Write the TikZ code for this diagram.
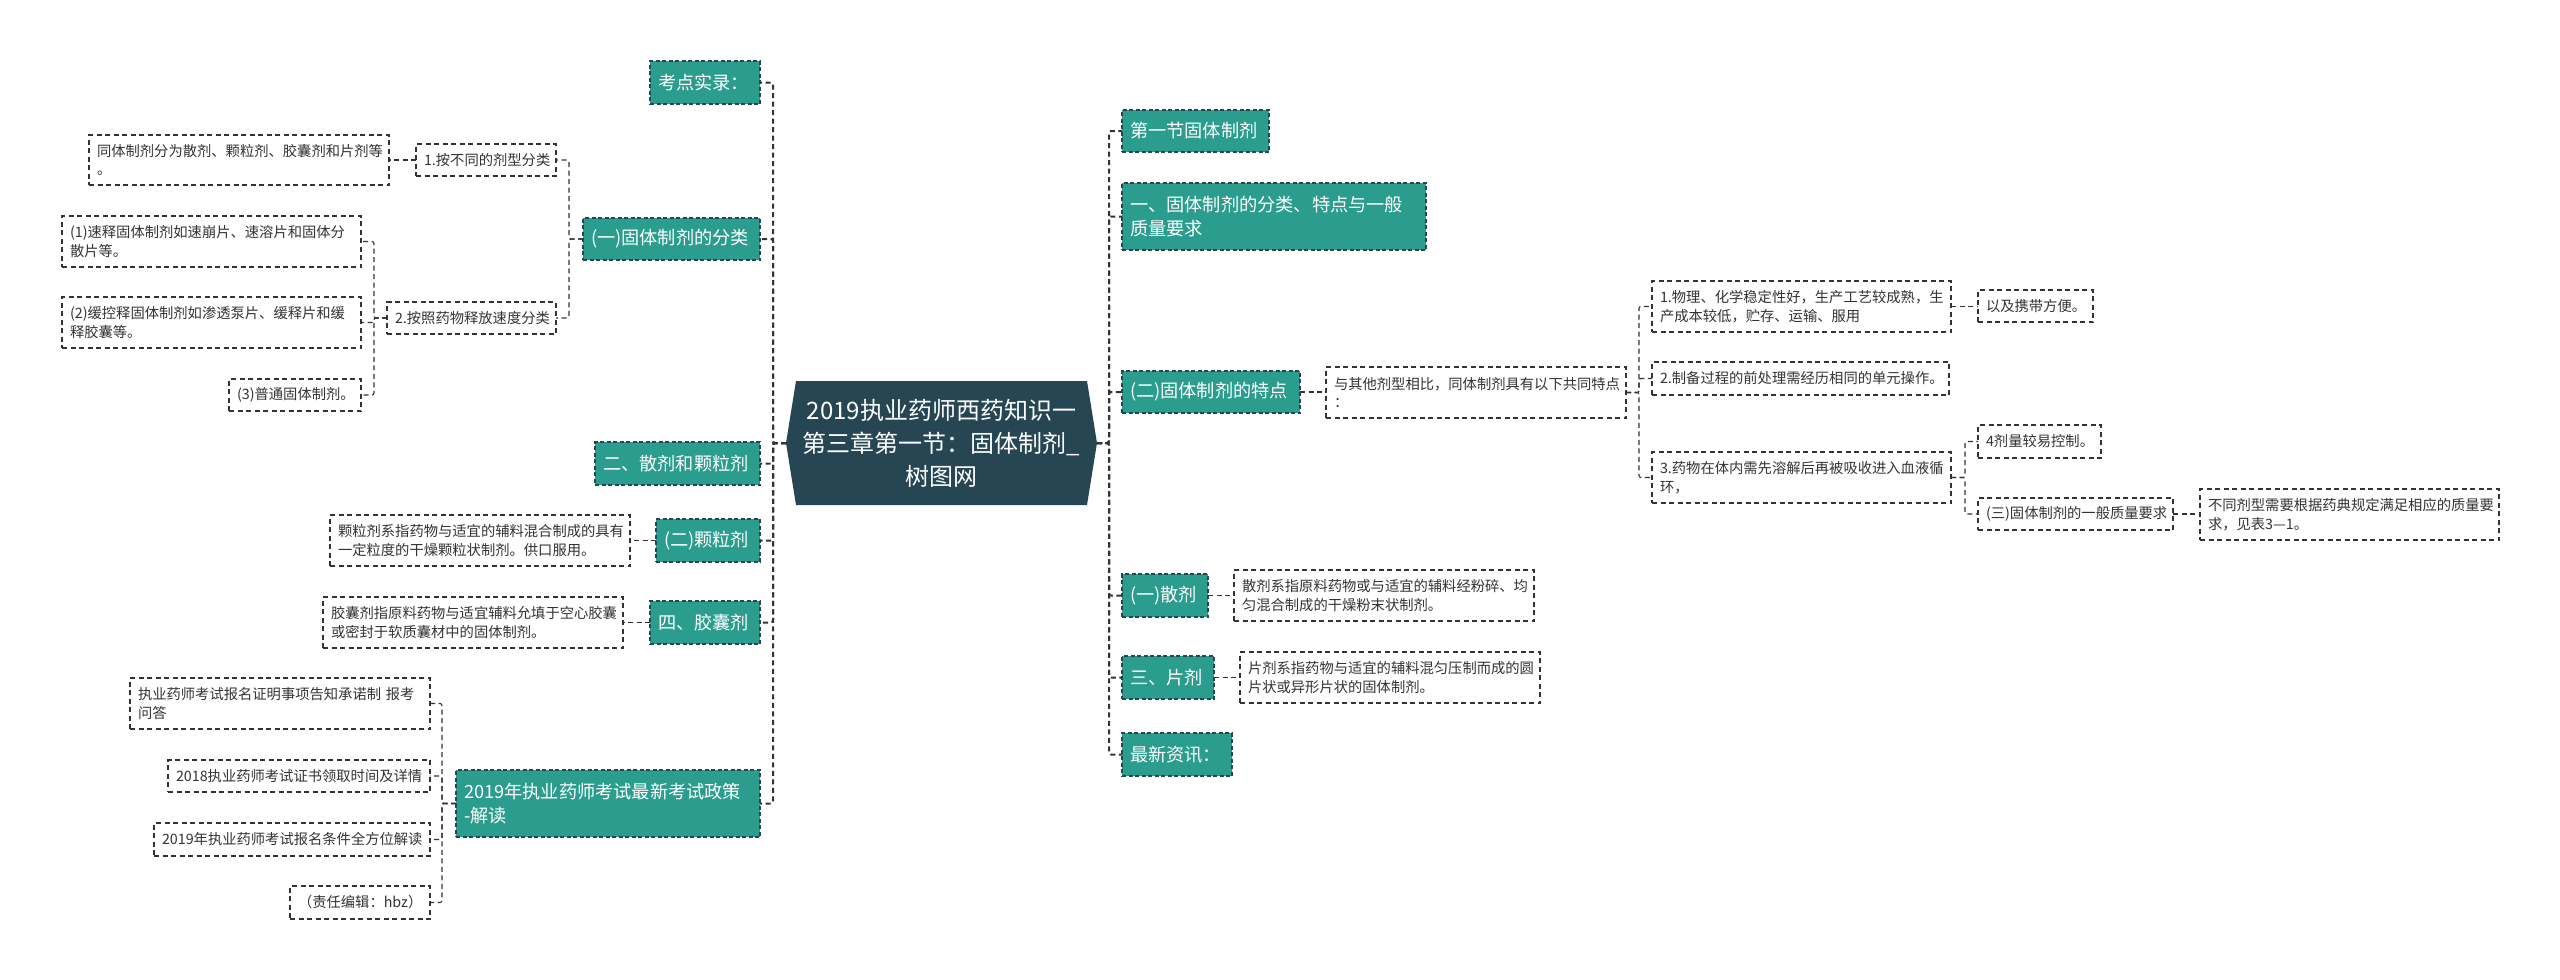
\documentclass[tikz,border=0pt]{standalone}
\usepackage{fontspec}
\setmainfont{Noto Sans CJK SC}
\usetikzlibrary{backgrounds,calc}
\definecolor{teal1}{HTML}{2A9D8F}
\definecolor{navy1}{HTML}{264653}
\definecolor{ink}{HTML}{333333}
\definecolor{edge}{HTML}{333333}
\tikzset{
  x=1pt,y=-1pt,
  dashline/.style={dash pattern=on 5pt off 3.5pt},
  base/.style={anchor=north west,outer sep=0pt,inner xsep=8pt,inner ysep=0pt,align=left},
  wd/.style={text width=#1pt-16pt},
  ht/.style={minimum height=#1pt},
  smallbox/.style={base,draw=edge,line width=1.1pt,dashline,fill=white,text=ink,font=\fontsize{14.3}{18.6}\selectfont},
  greenbox/.style={base,draw=navy1,line width=1.2pt,dash pattern=on 4pt off 2.5pt,fill=teal1,text=white,font=\fontsize{18.2}{24.4}\selectfont},
  rootbox/.style={anchor=north west,outer sep=0pt,inner sep=0pt,align=center,text=white,font=\fontsize{24}{33}\selectfont},
  link/.style={draw=edge,line width=1.1pt,dashline,rounded corners=2pt},
  mainlink/.style={draw=ink,line width=2pt,dashline,rounded corners=2pt}
}
\begin{document}
\begin{tikzpicture}
\useasboundingbox (0,0) rectangle (2560,980);
% root
\node[rootbox,minimum width=311pt,minimum height=124pt] (root) at (786,381) {2019执业药师西药知识一\\第三章第一节：固体制剂\_\\树图网};
\begin{scope}[on background layer]
\fill[white] (0,0) rectangle (2560,980);
\fill[navy1] (root.west) -- ($(root.north west)+(10,0)$) -- ($(root.north east)+(-10,0)$) -- (root.east) -- ($(root.south east)+(-10,0)$) -- ($(root.south west)+(10,0)$) -- cycle;
\end{scope}
% left main
\node[greenbox,wd=110,ht=43] (l1) at (650,61) {考点实录：};
\node[greenbox,wd=177,ht=42] (l2) at (583,218) {(一)固体制剂的分类};
\node[greenbox,wd=165,ht=43] (l3) at (595,442) {二、散剂和颗粒剂};
\node[greenbox,wd=104,ht=43] (l4) at (656,519) {(二)颗粒剂};
\node[greenbox,wd=110,ht=43] (l5) at (650,601) {四、胶囊剂};
\node[greenbox,wd=304,ht=67] (l6) at (456,770) {2019年执业药师考试最新考试政策\\-解读};
% left details
\node[smallbox,wd=140,ht=32] (a1) at (416,144) {1.按不同的剂型分类};
\node[smallbox,wd=300,ht=50] (a1x) at (89,135) {同体制剂分为散剂、颗粒剂、胶囊剂和片剂等\\。};
\node[smallbox,wd=169,ht=32] (a2) at (387,302) {2.按照药物释放速度分类};
\node[smallbox,wd=299,ht=51] (a21) at (62,216) {(1)速释固体制剂如速崩片、速溶片和固体分\\散片等。};
\node[smallbox,wd=299,ht=51] (a22) at (62,297) {(2)缓控释固体制剂如渗透泵片、缓释片和缓\\释胶囊等。};
\node[smallbox,wd=132,ht=32] (a23) at (229,379) {(3)普通固体制剂。};
\node[smallbox,wd=300,ht=51] (b1) at (330,515) {颗粒剂系指药物与适宜的辅料混合制成的具有\\一定粒度的干燥颗粒状制剂。供口服用。};
\node[smallbox,wd=300,ht=51] (b2) at (323,597) {胶囊剂指原料药物与适宜辅料允填于空心胶囊\\或密封于软质囊材中的固体制剂。};
\node[smallbox,wd=300,ht=51] (c1) at (130,678) {执业药师考试报名证明事项告知承诺制 报考\\问答};
\node[smallbox,wd=262,ht=32] (c2) at (168,760) {2018执业药师考试证书领取时间及详情};
\node[smallbox,wd=276,ht=33] (c3) at (154,823) {2019年执业药师考试报名条件全方位解读};
\node[smallbox,wd=140,ht=33] (c4) at (290,886) {（责任编辑：hbz）};
% right main
\node[greenbox,wd=147,ht=42] (r1) at (1122,110) {第一节固体制剂};
\node[greenbox,wd=304,ht=67] (r2) at (1122,183) {一、固体制剂的分类、特点与一般\\质量要求};
\node[greenbox,wd=178,ht=42] (r3) at (1122,371) {(二)固体制剂的特点};
\node[greenbox,wd=86,ht=43] (r4) at (1122,574) {(一)散剂};
\node[greenbox,wd=92,ht=43] (r5) at (1122,656) {三、片剂};
\node[greenbox,wd=110,ht=43] (r6) at (1122,733) {最新资讯：};
% right details
\node[smallbox,wd=300,ht=51] (d0) at (1326,367) {与其他剂型相比，同体制剂具有以下共同特点\\：};
\node[smallbox,wd=299,ht=51] (d1) at (1652,281) {1.物理、化学稳定性好，生产工艺较成熟，生\\产成本较低，贮存、运输、服用};
\node[smallbox,wd=115,ht=32] (d1x) at (1978,290) {以及携带方便。};
\node[smallbox,wd=297,ht=33] (d2) at (1652,362) {2.制备过程的前处理需经历相同的单元操作。};
\node[smallbox,wd=299,ht=51] (d3) at (1652,452) {3.药物在体内需先溶解后再被吸收进入血液循\\环，};
\node[smallbox,wd=123,ht=33] (d31) at (1978,425) {4剂量较易控制。};
\node[smallbox,wd=195,ht=32] (d32) at (1978,498) {(三)固体制剂的一般质量要求};
\node[smallbox,wd=299,ht=51] (d32x) at (2200,489) {不同剂型需要根据药典规定满足相应的质量要\\求，见表3—1。};
\node[smallbox,wd=300,ht=51] (e4) at (1234,570) {散剂系指原料药物或与适宜的辅料经粉碎、均\\匀混合制成的干燥粉末状制剂。};
\node[smallbox,wd=300,ht=51] (e5) at (1240,652) {片剂系指药物与适宜的辅料混匀压制而成的圆\\片状或异形片状的固体制剂。};
% connectors
\foreach \n in {l1,l2,l3,l4,l5,l6} \draw[mainlink] (root.west) -- ++(-13,0) |- (\n.east);
\foreach \n in {r1,r2,r3,r4,r5,r6} \draw[mainlink] (root.east) -- ++(12,0) |- (\n.west);
\foreach \n in {a1,a2} \draw[link] (l2.west) -- ++(-14,0) |- (\n.east);
\draw[link] (a1.west) -- (a1.west -| a1x.east);
\foreach \n in {a21,a22,a23} \draw[link] (a2.west) -- ++(-13,0) |- (\n.east);
\draw[link] (l4.west) -- (l4.west -| b1.east);
\draw[link] (l5.west) -- (l5.west -| b2.east);
\foreach \n in {c1,c2,c3,c4} \draw[link] (l6.west) -- ++(-14,0) |- (\n.east);
\draw[link] (r3.east) -- (r3.east -| d0.west);
\foreach \n in {d1,d2,d3} \draw[link] (d0.east) -- ++(13,0) |- (\n.west);
\draw[link] (d1.east) -- (d1.east -| d1x.west);
\foreach \n in {d31,d32} \draw[link] (d3.east) -- ++(14,0) |- (\n.west);
\draw[link] (d32.east) -- (d32.east -| d32x.west);
\draw[link] (r4.east) -- (r4.east -| e4.west);
\draw[link] (r5.east) -- (r5.east -| e5.west);
\end{tikzpicture}
\end{document}
